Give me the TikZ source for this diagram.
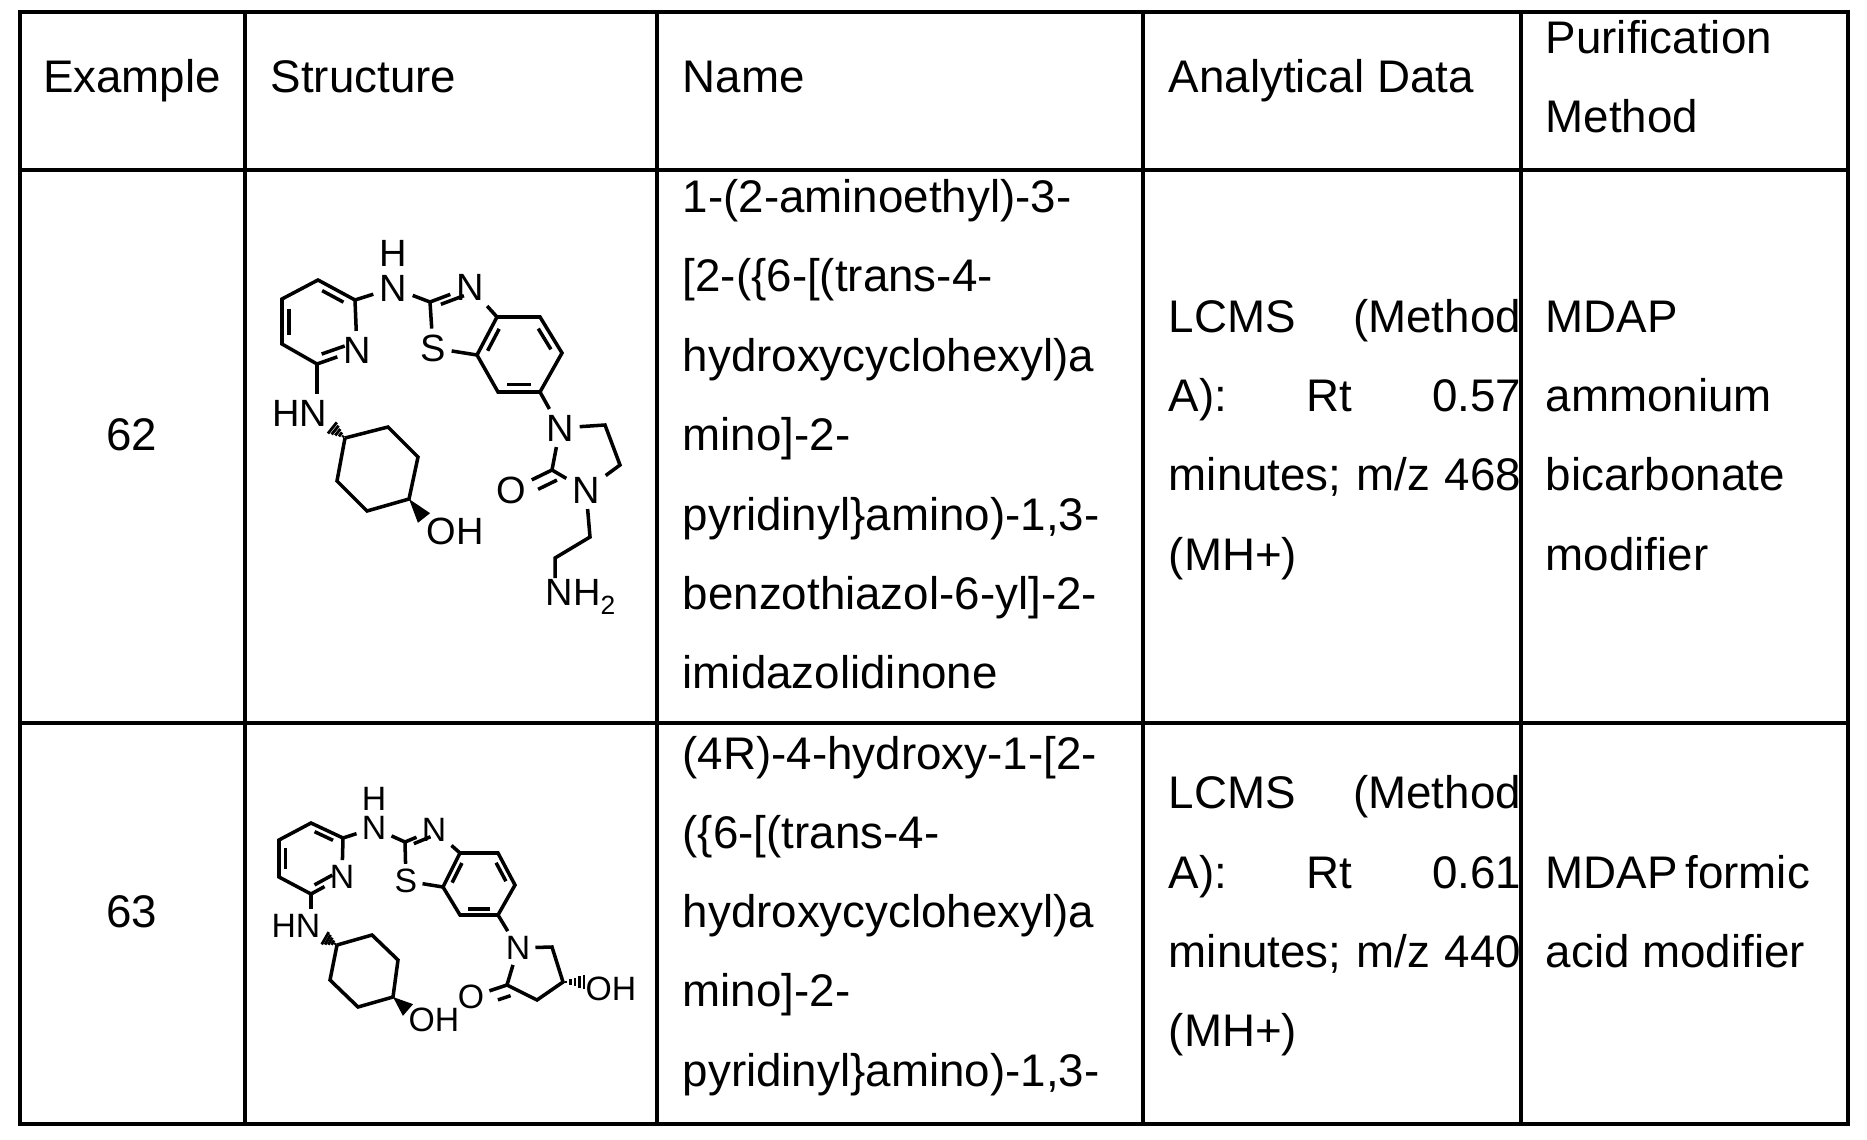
\documentclass[tikz,border=0pt]{standalone}
\usepackage{fontspec}
\setmainfont{Liberation Sans}
\usetikzlibrary{calc}
\newcommand\dbl[3]{\draw ($($(#1)!0.14!(#2)$)!0.2!(#3)$) -- ($($(#2)!0.14!(#1)$)!0.2!(#3)$);}
\newcommand\wdg[2]{\fill ($(#1)$) -- ($(#2)!2.2pt!90:(#1)$) -- ($(#2)!2.2pt!-90:(#1)$) -- cycle;}
\newcommand\hsh[2]{\foreach \t in {0.12,0.3,0.48,0.66,0.84,1.0}{\pgfmathsetmacro\hw{\t*2.4}\draw[line width=0.8pt] ($($(#1)!\t!(#2)$)!\hw pt!90:(#2)$) -- ($($(#1)!\t!(#2)$)!\hw pt!-90:(#2)$);}}
\newcommand\oxo[2]{\draw[shorten >=7pt] ($(#1)!3.2pt!90:(#2)$) -- ($(#2)!3.2pt!-90:(#1)$);}
\begin{document}
\begin{tikzpicture}[x=0.01cm,y=-0.01cm,line width=1pt,
  txt/.style={font=\fontsize{13}{22.8}\selectfont,inner sep=0pt,anchor=base west},
  ctr/.style={font=\fontsize{13}{22.8}\selectfont,inner sep=0pt,anchor=base},
  at1/.style={font=\fontsize{10.8}{11}\selectfont,inner sep=1.2pt},
  at2/.style={font=\fontsize{9.6}{10}\selectfont,inner sep=1pt},
  bond/.style={line width=1pt}]
\useasboundingbox (0,0) rectangle (1867,1140);
% table
\draw (20,12) rectangle (1848,1124);
\draw (20,170) -- (1848,170) (20,723) -- (1848,723);
\draw (245,12) -- (245,1124) (657,12) -- (657,1124) (1143,12) -- (1143,1124) (1521,12) -- (1521,1124);
% header
\node[ctr] (hex) at (132,93) {Example};
\node[txt] (hst) at (269,93) {Structure};
\node[txt] (hnm) at (681,93) {Name};
\node[txt] (han) at (1167,93) {Analytical Data};
\node[txt] (hp1) at (1544,54) {Purification};
\node[txt] (hp2) at (1544,133) {Method};
% row 62
\node[ctr] (e62) at (132,451) {62};
\foreach \y/\s [count=\i] in {213/{1-(2-aminoethyl)-3-},292/{[2-(\{6-[(trans-4-},372/{hydroxycyclohexyl)a},451/{mino]-2-},530/{pyridinyl\}amino)-1,3-},609/{benzothiazol-6-yl]-2-},688/{imidazolidinone}}
  \node[txt] (n62\i) at (681,\y) {\s};
\node[txt] (a621) at (1167,333) {\hbox to 3.52cm{LCMS\hfill(Method}};
\node[txt] (a622) at (1167,412) {\hbox to 3.52cm{A):\hfill Rt\hfill 0.57}};
\node[txt] (a623) at (1167,490) {\hbox to 3.52cm{minutes;\hfill m/z\hfill 468}};
\node[txt] (a624) at (1167,570) {(MH+)};
\node[txt] (p621) at (1544,333) {MDAP};
\node[txt] (p622) at (1544,412) {ammonium};
\node[txt] (p623) at (1544,490) {bicarbonate};
\node[txt] (p624) at (1544,570) {modifier};
% row 63
\node[ctr] (e63) at (132,927) {63};
\foreach \y/\s [count=\i] in {769/{(4R)-4-hydroxy-1-[2-},848/{(\{6-[(trans-4-},927/{hydroxycyclohexyl)a},1006/{mino]-2-},1086/{pyridinyl\}amino)-1,3-}}
  \node[txt] (n63\i) at (681,\y) {\s};
\node[txt] (a631) at (1167,808) {\hbox to 3.52cm{LCMS\hfill(Method}};
\node[txt] (a632) at (1167,888) {\hbox to 3.52cm{A):\hfill Rt\hfill 0.61}};
\node[txt] (a633) at (1167,967) {\hbox to 3.52cm{minutes;\hfill m/z\hfill 440}};
\node[txt] (a634) at (1167,1046) {(MH+)};
\node[txt] (p631) at (1544,888) {\hbox to 2.64cm{MDAP\hfill formic}};
\node[txt] (p632) at (1544,967) {acid modifier};

% ===== molecule 62 =====
\begin{scope}[bond]
\coordinate (a1) at (355,300); \coordinate (a2) at (318,280); \coordinate (a3) at (282,299);
\coordinate (a4) at (282,344); \coordinate (a5) at (317,364); \node[at1] (aN) at (357,350) {N};
\coordinate (apc) at (318,322);
\node[at1] (aNH) at (393,288) {N}; \node[at1] (aH) at (393,253) {H};
\coordinate (ac2) at (430,302); \node[at1] (aN3) at (470,287) {N};
\coordinate (a3a) at (497,317); \coordinate (a7a) at (477,355); \node[at1] (aS) at (433,348) {S};
\coordinate (atc) at (462,322);
\coordinate (a4b) at (540,317); \coordinate (a5b) at (562,353); \coordinate (a6b) at (540,392); \coordinate (a7b) at (498,392);
\coordinate (abc) at (519,355);
\node[at1] (aN1) at (560,428) {N}; \coordinate (am1) at (605,425); \coordinate (am2) at (620,465);
\node[at1] (aN2) at (586,490) {N}; \coordinate (aco) at (552,470); \node[at1] (aO) at (511,490) {O};
\coordinate (ae1) at (590,537); \coordinate (ae2) at (555,558);
\node[at1,anchor=north west,inner sep=0pt] (aNH2) at (544,578) {NH\raisebox{-0.45ex}{\fontsize{7.5}{7.5}\selectfont 2}};
\node[at1] (aHN) at (300,413) {HN};
\coordinate (ac1) at (345,438); \coordinate (ac2c) at (388,427); \coordinate (ac3) at (418,457);
\coordinate (ac4) at (409,499); \coordinate (ac5) at (367,511); \coordinate (ac6) at (337,481);
\coordinate (ahe) at (330,426); \coordinate (awe) at (424,518);
\node[at1] (aOH) at (455,531) {OH};
\draw (a1) -- (a2) -- (a3) -- (a4) -- (a5) -- (aN) -- (a1);
\dbl{a1}{a2}{apc} \dbl{a3}{a4}{apc} \dbl{a5}{aN}{apc}
\draw (a1) -- (aNH) -- (ac2) -- (aN3) -- (a3a) -- (a7a) -- (aS) -- (ac2);
\dbl{ac2}{aN3}{atc}
\draw (a3a) -- (a4b) -- (a5b) -- (a6b) -- (a7b) -- (a7a);
\dbl{a4b}{a5b}{abc} \dbl{a6b}{a7b}{abc} \dbl{a3a}{a7a}{abc}
\draw (a6b) -- (aN1) -- (am1) -- (am2) -- (aN2) -- (aco) -- (aN1);
\draw (aco) -- (aO); \oxo{aco}{aO}
\draw (aN2) -- (ae1) -- (ae2) -- (ae2 |- aNH2.north);
\draw (a5) -- (a5 |- aHN.north);
\draw (ac1) -- (ac2c) -- (ac3) -- (ac4) -- (ac5) -- (ac6) -- (ac1);
\hsh{ac1}{ahe} \wdg{ac4}{awe}
\end{scope}

% ===== molecule 63 =====
\begin{scope}[bond]
\coordinate (b1) at (343,838); \coordinate (b2) at (311,823); \coordinate (b3) at (279,840);
\coordinate (b4) at (279,877); \coordinate (b5) at (311,894); \node[at2] (bN) at (342,877) {N};
\coordinate (bpc) at (311,858);
\node[at2] (bNH) at (374,828) {N}; \node[at2] (bH) at (374,799) {H};
\coordinate (bc2) at (405,842); \node[at2] (bN3) at (434,830) {N};
\coordinate (b3a) at (460,853); \coordinate (b7a) at (443,887); \node[at2] (bS) at (406,881) {S};
\coordinate (btc) at (433,857);
\coordinate (b4b) at (498,853); \coordinate (b5b) at (515,885); \coordinate (b6b) at (498,915); \coordinate (b7b) at (460,915);
\coordinate (bbc) at (479,884);
\node[at2] (bN1) at (518,948) {N}; \coordinate (bm1) at (552,947); \coordinate (bc4p) at (563,982);
\coordinate (bc3p) at (537,1000); \coordinate (bc2p) at (507,985); \node[at2] (bO) at (471,997) {O};
\coordinate (bhe2) at (588,982); \node[at2] (bOH2) at (611,989) {OH};
\node[at2] (bHN) at (296,926) {HN};
\coordinate (bc1) at (337,945); \coordinate (bc2c) at (372,935); \coordinate (bc3) at (398,960);
\coordinate (bc4) at (393,997); \coordinate (bc5) at (358,1007); \coordinate (bc6) at (330,980);
\coordinate (bhe) at (323,937); \coordinate (bwe) at (408,1010);
\node[at2] (bOH) at (434,1020) {OH};
\draw (b1) -- (b2) -- (b3) -- (b4) -- (b5) -- (bN) -- (b1);
\dbl{b1}{b2}{bpc} \dbl{b3}{b4}{bpc} \dbl{b5}{bN}{bpc}
\draw (b1) -- (bNH) -- (bc2) -- (bN3) -- (b3a) -- (b7a) -- (bS) -- (bc2);
\dbl{bc2}{bN3}{btc}
\draw (b3a) -- (b4b) -- (b5b) -- (b6b) -- (b7b) -- (b7a);
\dbl{b4b}{b5b}{bbc} \dbl{b6b}{b7b}{bbc} \dbl{b3a}{b7a}{bbc}
\draw (b6b) -- (bN1) -- (bm1) -- (bc4p) -- (bc3p) -- (bc2p) -- (bN1);
\draw (bc2p) -- (bO); \oxo{bc2p}{bO}
\hsh{bc4p}{bhe2}
\draw (b5) -- (b5 |- bHN.north);
\draw (bc1) -- (bc2c) -- (bc3) -- (bc4) -- (bc5) -- (bc6) -- (bc1);
\hsh{bc1}{bhe} \wdg{bc4}{bwe}
\end{scope}
\end{tikzpicture}
\end{document}
